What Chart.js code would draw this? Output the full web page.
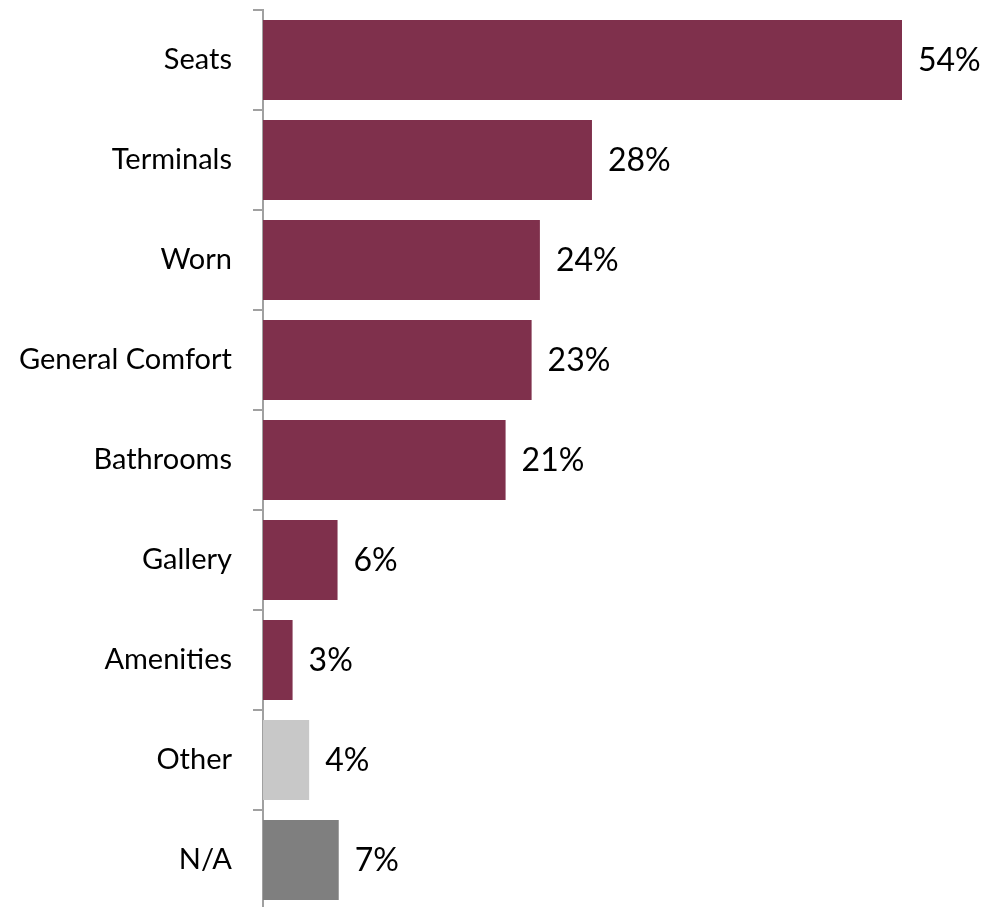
<!DOCTYPE html>
<html>
<head>
<meta charset="utf-8">
<script src="https://cdn.jsdelivr.net/npm/chart.js@4"></script>
<style>
  html, body { margin: 0; padding: 0; background: #fff; overflow: hidden; }
  #wrap { width: 987px; height: 910px; }
</style>
</head>
<body>
<div id="wrap"><canvas id="myChart" width="987" height="910"></canvas></div>
<script>
// categories and values
const categories = ['Seats', 'Terminals', 'Worn', 'General Comfort', 'Bathrooms', 'Gallery', 'Amenities', 'Other', 'N/A'];
const values = [54, 27.8, 23.4, 22.7, 20.5, 6.3, 2.5, 3.9, 6.4];
const valueLabels = ['54%', '28%', '24%', '23%', '21%', '6%', '3%', '4%', '7%'];
const barColors = ['#7f304c', '#7f304c', '#7f304c', '#7f304c', '#7f304c', '#7f304c', '#7f304c', '#c8c8c8', '#7f7f7f'];

const FONT = 'Lato, "Open Sans", sans-serif';

// value labels at the end of each bar
const endLabels = {
    id: 'endLabels',
    afterDatasetsDraw(chart) {
        const c = chart.ctx;
        const meta = chart.getDatasetMeta(0);
        c.save();
        c.fillStyle = '#000';
        c.font = '32px ' + FONT;
        c.textBaseline = 'middle';
        c.textAlign = 'left';
        meta.data.forEach((bar, i) => {
            c.fillText(valueLabels[i], bar.x + 16, bar.y + 1);
        });
        c.restore();
    }
};

const ctx = document.getElementById('myChart').getContext('2d');
const myChart = new Chart(ctx, {
    type: 'bar',
    data: {
        labels: categories,
        datasets: [{
            data: values,
            backgroundColor: barColors,
            borderWidth: 0,
            categoryPercentage: 0.8,
            barPercentage: 1.0
        }]
    },
    options: {
        indexAxis: 'y',
        responsive: false,
        animation: false,
        layout: { padding: { top: 10, right: 14, left: 0, bottom: 0 } },
        plugins: {
            legend: { display: false },
            tooltip: { enabled: false }
        },
        scales: {
            x: {
                display: false,
                min: 0,
                max: 60
            },
            y: {
                afterFit(scale) {
                    scale.width = 263;
                    scale.paddingTop = 0;
                    scale.paddingBottom = 0;
                },
                grid: {
                    drawOnChartArea: false,
                    tickLength: 10,
                    color: '#a0a0a0',
                    lineWidth: 2
                },
                border: { color: '#a0a0a0', width: 2 },
                ticks: {
                    color: '#000',
                    font: { family: FONT, size: 29 },
                    padding: 21
                }
            }
        }
    },
    plugins: [endLabels]
});
</script>
</body>
</html>
